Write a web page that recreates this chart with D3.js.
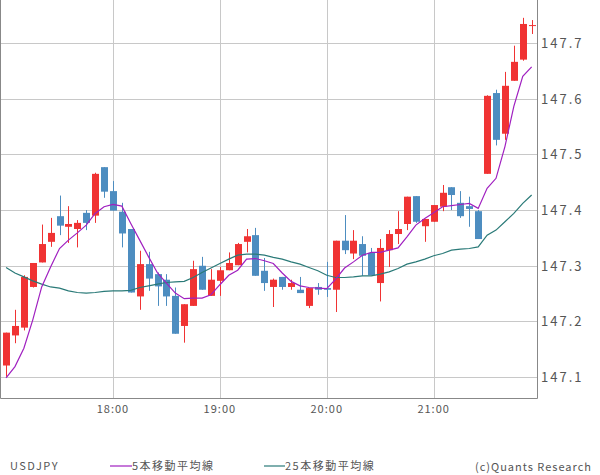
<!DOCTYPE html>
<html lang="ja">
<head>
<meta charset="UTF-8">
<script src="https://cdnjs.cloudflare.com/ajax/libs/d3/7.8.5/d3.min.js"></script>
<style>
  body { margin: 0; background: #fff; }
  text { font-family: "Noto Sans CJK JP", "DejaVu Sans", sans-serif; fill: #555; }
</style>
</head>
<body>
<svg width="600" height="475"></svg>
<script>
// 5-minute candles, 17:00 .. 21:55
const opens  = [147.121,147.175,147.189,147.262,147.306,147.343,147.389,147.370,147.366,147.395,
                147.390,147.477,147.434,147.397,147.366,147.245,147.303,147.285,147.275,147.246,
                147.192,147.228,147.300,147.246,147.273,147.292,147.301,147.343,147.355,147.291,
                147.262,147.280,147.262,147.257,147.228,147.262,147.260,147.257,147.345,147.322,
                147.339,147.323,147.269,147.328,147.357,147.375,147.425,147.371,147.379,147.406,
                147.441,147.413,147.407,147.398,147.465,147.610,147.537,147.632,147.670,147.732];
const highs  = [147.180,147.221,147.283,147.305,147.374,147.386,147.426,147.407,147.382,147.400,
                147.467,147.477,147.452,147.413,147.366,147.327,147.325,147.288,147.285,147.261,
                147.231,147.309,147.316,147.294,147.298,147.324,147.341,147.366,147.368,147.314,
                147.277,147.280,147.275,147.280,147.260,147.269,147.307,147.345,147.391,147.364,
                147.353,147.332,147.348,147.364,147.398,147.424,147.425,147.384,147.409,147.445,
                147.441,147.434,147.424,147.400,147.606,147.616,147.648,147.695,147.745,147.741];
const lows   = [147.101,147.161,147.184,147.261,147.306,147.334,147.355,147.341,147.333,147.364,
                147.377,147.422,147.399,147.333,147.252,147.221,147.255,147.228,147.228,147.178,
                147.162,147.228,147.257,147.246,147.246,147.292,147.301,147.324,147.282,147.255,
                147.226,147.257,147.257,147.251,147.224,147.248,147.244,147.217,147.321,147.312,
                147.282,147.283,147.236,147.298,147.339,147.364,147.377,147.343,147.379,147.398,
                147.400,147.386,147.370,147.348,147.465,147.516,147.526,147.632,147.668,147.716];
const closes = [147.180,147.192,147.280,147.305,147.339,147.359,147.372,147.375,147.377,147.377,
                147.465,147.433,147.399,147.358,147.252,147.303,147.277,147.263,147.245,147.178,
                147.231,147.294,147.257,147.275,147.292,147.305,147.339,147.353,147.282,147.269,
                147.275,147.262,147.269,147.251,147.260,147.257,147.257,147.345,147.328,147.345,
                147.318,147.283,147.332,147.357,147.366,147.424,147.379,147.384,147.409,147.431,
                147.427,147.389,147.402,147.348,147.605,147.526,147.623,147.666,147.734,147.732];
const ma5    = [147.099,147.119,147.152,147.203,147.262,147.298,147.331,147.346,147.359,147.373,
                147.394,147.406,147.410,147.407,147.376,147.346,147.316,147.287,147.269,147.251,
                147.241,147.242,147.242,147.248,147.266,147.283,147.292,147.312,147.313,147.309,
                147.304,147.287,147.272,147.264,147.261,147.260,147.259,147.276,147.296,147.307,
                147.319,147.324,147.324,147.328,147.332,147.352,147.373,147.385,147.395,147.406,
                147.408,147.410,147.412,147.403,147.439,147.457,147.514,147.586,147.640,147.657];
const ma25   = [147.297,147.287,147.280,147.273,147.267,147.262,147.260,147.255,147.252,147.251,
                147.252,147.254,147.255,147.255,147.256,147.261,147.264,147.267,147.270,147.271,
                147.272,147.279,147.288,147.296,147.304,147.312,147.319,147.321,147.321,147.319,
                147.315,147.312,147.307,147.303,147.297,147.291,147.283,147.279,147.279,147.280,
                147.282,147.282,147.285,147.289,147.295,147.303,147.307,147.312,147.318,147.322,
                147.328,147.330,147.331,147.334,147.355,147.364,147.379,147.394,147.412,147.427];
const xTickIdx    = [12, 24, 36, 48];
const xTickLabels = ["18:00", "19:00", "20:00", "21:00"];
const yTicks      = [147.1, 147.2, 147.3, 147.4, 147.5, 147.6, 147.7];

const svg = d3.select("svg");
const W = 537, H = 398;
const x = d3.scaleLinear().domain([-0.68, 59.6]).range([0, W]);
const y = d3.scaleLinear().domain([147.0627, 147.777]).range([H, 0]);

const grid = svg.append("g");
grid.selectAll(".hg").data(yTicks).enter().append("line")
    .attr("x1", 0).attr("x2", W)
    .attr("y1", d => Math.round(y(d)) + 0.5).attr("y2", d => Math.round(y(d)) + 0.5)
    .attr("stroke", "#c8c8c8");
grid.selectAll(".vg").data(xTickIdx).enter().append("line")
    .attr("x1", d => Math.round(x(d)) + 0.5).attr("x2", d => Math.round(x(d)) + 0.5)
    .attr("y1", 0).attr("y2", H)
    .attr("stroke", "#c8c8c8");

// frame
svg.append("path")
    .attr("d", `M0.5,0V${H + 0.5}H${W + 0.5}V0`)
    .attr("fill", "none").attr("stroke", "#888");

const candles = d3.range(opens.length);
const up = i => closes[i] >= opens[i];
const g = svg.append("g");
g.selectAll(".wick").data(candles).enter().append("line")
    .attr("x1", i => Math.round(x(i)) + 0.5).attr("x2", i => Math.round(x(i)) + 0.5)
    .attr("y1", i => y(highs[i])).attr("y2", i => y(lows[i]))
    .attr("stroke", i => up(i) ? "#f03333" : "#4d8dc0");
g.selectAll(".body").data(candles).enter().append("rect")
    .attr("x", i => Math.round(x(i)) - 3)
    .attr("width", 7)
    .attr("y", i => y(Math.max(opens[i], closes[i])))
    .attr("height", i => Math.max(1, Math.abs(y(opens[i]) - y(closes[i]))))
    .attr("fill", i => up(i) ? "#f03333" : "#4d8dc0");

const line = arr => d3.line().x((d, i) => x(i)).y(d => y(d))(arr);
svg.append("path").attr("d", line(ma25)).attr("fill", "none")
    .attr("stroke", "#2a7a78").attr("stroke-width", 1.2);
svg.append("path").attr("d", line(ma5)).attr("fill", "none")
    .attr("stroke", "#a020c0").attr("stroke-width", 1.2);

// axes labels
svg.selectAll(".yl").data(yTicks).enter().append("text")
    .attr("x", W + 4).attr("y", d => y(d) + 5)
    .attr("font-size", 13).attr("letter-spacing", 2)
    .text(d => d.toFixed(1));
svg.selectAll(".xl").data(xTickIdx).enter().append("text")
    .attr("x", d => x(d)).attr("y", H + 15)
    .attr("text-anchor", "middle").attr("font-size", 11).attr("letter-spacing", 1)
    .text((d, i) => xTickLabels[i]);

// legend
const lg = svg.append("g").attr("font-size", 11).attr("letter-spacing", 1.5);
lg.append("text").attr("x", 10).attr("y", 470).text("USDJPY");
lg.append("line").attr("x1", 110).attr("x2", 132).attr("y1", 466).attr("y2", 466)
    .attr("stroke", "#a020c0").attr("stroke-width", 1.2);
lg.append("text").attr("x", 132).attr("y", 470).text("5本移動平均線");
lg.append("line").attr("x1", 264).attr("x2", 285).attr("y1", 466).attr("y2", 466)
    .attr("stroke", "#2a7a78").attr("stroke-width", 1.2);
lg.append("text").attr("x", 285).attr("y", 470).text("25本移動平均線");
lg.append("text").attr("x", 592).attr("y", 471).attr("text-anchor", "end")
    .attr("letter-spacing", 1).text("(c)Quants Research");
</script>
</body>
</html>
